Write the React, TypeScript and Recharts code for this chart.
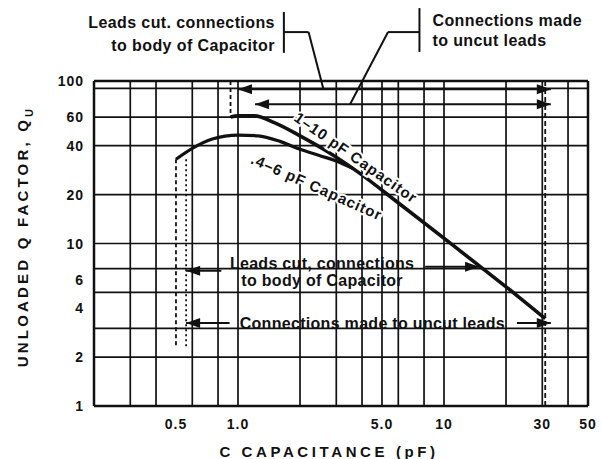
import React from "react";
import {
  LineChart,
  Line,
  XAxis,
  YAxis,
  CartesianGrid,
  ReferenceLine,
  ReferenceDot,
} from "recharts";

// ---- data ----
const capUpper = [0.92, 1.0, 1.2, 1.5, 2.0, 2.7, 3.8, 6.1, 11, 15, 23, 31];
const qUpper = [60, 61, 61, 55.5, 46, 37, 27.7, 17.5, 9.8, 7.2, 4.7, 3.45];
const capLower = [0.5, 0.6, 0.75, 1.0, 1.25, 1.6, 2.0, 2.5, 3.0, 3.6];
const qLower = [33, 38.5, 44, 46.5, 46, 42.5, 38, 34.7, 32.2, 29];

const xTicks = [0.5, 1, 5, 10, 30, 50];
const xTickLabels = ["0.5", "1.0", "5.0", "10", "30", "50"];
const yTicks = [1, 2, 3, 4, 6, 8, 10, 20, 30, 40, 60, 100];
const xGrid = [0.3, 0.4, 0.5, 0.6, 0.7, 0.8, 0.9, 1, 2, 3, 4, 5, 6, 7, 8, 9, 10, 20, 30, 40];
const yGrid = [2, 3, 4, 5, 6, 7, 8, 9, 10, 20, 30, 40, 50, 60, 70, 80, 90];

const xTitle = "C  CAPACITANCE (pF)";
const yTitle = "UNLOADED Q FACTOR, Q";
const yTitleSub = "U";
const upperName = "1\u201310 pF Capacitor";
const lowerName = ".4\u20136 pF Capacitor";
const topLeftText = ["Leads cut. connections", "to body of Capacitor"];
const topRightText = ["Connections made", "to uncut leads"];
const midText = ["Leads cut, connections", "to body of Capacitor"];
const lowText = "Connections made to uncut leads";

const upperData = capUpper.map((c, i) => ({ c, q: qUpper[i] }));
const lowerData = capLower.map((c, i) => ({ c, q: qLower[i] }));

const FONT = "'Liberation Sans', Arial, sans-serif";
const INK = "#111";

const XTick = (props: any) => {
  const { x, y, payload } = props;
  const i = xTicks.indexOf(payload.value);
  return (
    <text x={x} y={y + 21} textAnchor="middle" fontFamily={FONT} fontWeight={700}
      fontSize={14} fill={INK} letterSpacing={1}>
      {xTickLabels[i] ?? String(payload.value)}
    </text>
  );
};

const YTick = (props: any) => {
  const { x, y, payload } = props;
  return (
    <text x={x - 8} y={y} dy="0.36em" textAnchor="end" fontFamily={FONT} fontWeight={700}
      fontSize={14} fill={INK} letterSpacing={1}>
      {String(payload.value)}
    </text>
  );
};

const textShape = (txt: string, anchor: string, size: number, dx = 0, ls = 0) => (p: any) => (
  <text
    x={p.cx + dx}
    y={p.cy}
    dy="0.36em"
    textAnchor={anchor}
    fontFamily={FONT}
    fontWeight={700}
    fontSize={size}
    fill={INK}
    letterSpacing={ls}
  >
    {txt}
  </text>
);

const rotShape = (txt: string, angle: number, size: number) => (p: any) => (
  <text
    x={p.cx}
    y={p.cy}
    textAnchor="start"
    fontFamily={FONT}
    fontWeight={700}
    fontSize={size}
    fill={INK}
    letterSpacing={1}
    stroke="#fff"
    strokeWidth={4}
    paintOrder="stroke"
    transform={`rotate(${angle} ${p.cx} ${p.cy})`}
  >
    {txt}
  </text>
);

const arrowShape = (dir: number) => (p: any) => {
  const { cx, cy } = p;
  const L = 14;
  const H = 5;
  const pts =
    dir < 0
      ? `${cx},${cy} ${cx + L},${cy - H} ${cx + L},${cy + H}`
      : `${cx},${cy} ${cx - L},${cy - H} ${cx - L},${cy + H}`;
  return <polygon points={pts} fill={INK} />;
};

const seg = (x1: number, y1: number, x2: number, y2: number, key: string, w = 2, dash?: string) => (
  <ReferenceLine
    key={key}
    segment={[{ x: x1, y: y1 }, { x: x2, y: y2 }]}
    stroke={INK}
    strokeWidth={w}
    strokeDasharray={dash}
    ifOverflow="visible"
  />
);

const dot = (x: number, y: number, shape: any, key: string) => (
  <ReferenceDot key={key} x={x} y={y} r={1} shape={shape} ifOverflow="visible" isFront />
);

export default function App() {
  return (
    <div style={{ width: 602, height: 459, background: "#fff" }}>
      <style>{"body{margin:0;background:#fff}"}</style>
      <LineChart
        width={602}
        height={459}
        margin={{ top: 81, right: 14, bottom: 23, left: 34 }}
      >
        <CartesianGrid
          stroke={INK}
          strokeWidth={1.7}
          horizontalValues={yGrid}
          verticalValues={xGrid}
          syncWithTicks={false}
        />
        <XAxis
          dataKey="c"
          type="number"
          scale="log"
          domain={[0.2, 50]}
          allowDataOverflow
          ticks={xTicks}
          tick={<XTick />}
          tickLine={false}
          tickSize={0}
          height={30}
          axisLine={{ stroke: INK, strokeWidth: 2.5 }}
          label={{
            content: (p: any) => {
              const vb = p.viewBox;
              return (
                <text x={vb.x + vb.width / 2 - 12} y={457} textAnchor="middle" fontFamily={FONT}
                  fontWeight={700} fontSize={15} fill={INK} letterSpacing={3.6}>
                  {xTitle}
                </text>
              );
            },
          }}
        />
        <YAxis
          dataKey="q"
          type="number"
          scale="log"
          domain={[1, 100]}
          allowDataOverflow
          ticks={yTicks}
          tick={<YTick />}
          tickLine={false}
          tickSize={0}
          width={60}
          axisLine={{ stroke: INK, strokeWidth: 2.5 }}
          label={{
            content: (p: any) => {
              const vb = p.viewBox;
              const cx = 23;
              const cy = vb.y + vb.height / 2 - 7;
              return (
                <text x={cx} y={cy} dy="0.36em" textAnchor="middle" fontFamily={FONT}
                  fontWeight={700} fontSize={15} fill={INK} letterSpacing={3.2}
                  transform={`rotate(-90 ${cx} ${cy})`}>
                  {yTitle}
                  <tspan fontSize={11} dy={5}>{yTitleSub}</tspan>
                </text>
              );
            },
          }}
        />

        {/* plot border: top and right */}
        <ReferenceLine y={100} stroke={INK} strokeWidth={2.5} ifOverflow="visible" />
        <ReferenceLine x={50} stroke={INK} strokeWidth={2.5} ifOverflow="visible" />

        {/* dashed limit lines */}
        {seg(0.5, 33, 0.5, 2.3, "d1", 1.8, "4 3")}
        {seg(0.56, 33, 0.56, 2.3, "d2", 1.8, "2 3")}
        {seg(0.92, 100, 0.92, 60, "d3", 1.8, "4 3")}
        {seg(31, 100, 31, 1, "d4", 1.8, "5 3")}

        <Line data={lowerData} dataKey="q" type="monotone" stroke={INK} strokeWidth={3.2}
          dot={false} isAnimationActive={false} />
        <Line data={upperData} dataKey="q" type="monotone" stroke={INK} strokeWidth={3.6}
          dot={false} isAnimationActive={false} />

        {/* top annotations */}
        {seg(1.0, 89, 33, 89, "t1", 2)}
        {seg(1.21, 72, 33, 72, "t2", 2)}
        {dot(1.0, 89, arrowShape(-1), "a1")}
        {dot(33, 89, arrowShape(1), "a2")}
        {dot(1.21, 72, arrowShape(-1), "a3")}
        {dot(33, 72, arrowShape(1), "a4")}
        {seg(1.67, 149, 1.67, 266, "b1", 2)}
        {seg(1.67, 200, 2.2, 200, "b1h", 2)}
        {seg(2.2, 200, 2.6, 89, "b1d", 2)}
        {seg(7.6, 151, 7.6, 281, "b2", 2)}
        {seg(7.6, 200, 5.35, 200, "b2h", 2)}
        {seg(5.35, 200, 3.5, 72, "b2d", 2)}
        {dot(1.67, 230, textShape(topLeftText[0], "end", 16, -9, 0.4), "tt1")}
        {dot(1.67, 166, textShape(topLeftText[1], "end", 16, -9, 0.4), "tt2")}
        {dot(7.6, 237, textShape(topRightText[0], "start", 16, 13, 0.4), "tt3")}
        {dot(7.6, 179, textShape(topRightText[1], "start", 16, 13, 0.4), "tt4")}

        {/* curve labels */}
        {dot(1.85, 57.5, rotShape(upperName, 35, 15), "ln1")}
        {dot(1.14, 31.3, rotShape(lowerName, 24, 15), "ln2")}

        {/* lower annotations */}
        {seg(0.56, 6.8, 0.83, 6.8, "m1", 2)}
        {dot(0.56, 6.8, arrowShape(-1), "ma1")}
        {seg(8.1, 7.2, 14.8, 7.2, "m2", 2)}
        {dot(14.8, 7.2, arrowShape(1), "ma2")}
        {dot(2.56, 7.6, textShape(midText[0], "middle", 16, 0, 0.3), "mt1")}
        {dot(2.56, 5.9, textShape(midText[1], "middle", 16, 0, 0.3), "mt2")}

        {seg(0.56, 3.24, 0.91, 3.24, "l1", 2)}
        {dot(0.56, 3.24, arrowShape(-1), "la1")}
        {seg(22.6, 3.24, 33, 3.24, "l2", 2)}
        {dot(33, 3.24, arrowShape(1), "la2")}
        {dot(4.49, 3.24, textShape(lowText, "middle", 16, 0, 0.3), "lt")}
      </LineChart>
    </div>
  );
}
